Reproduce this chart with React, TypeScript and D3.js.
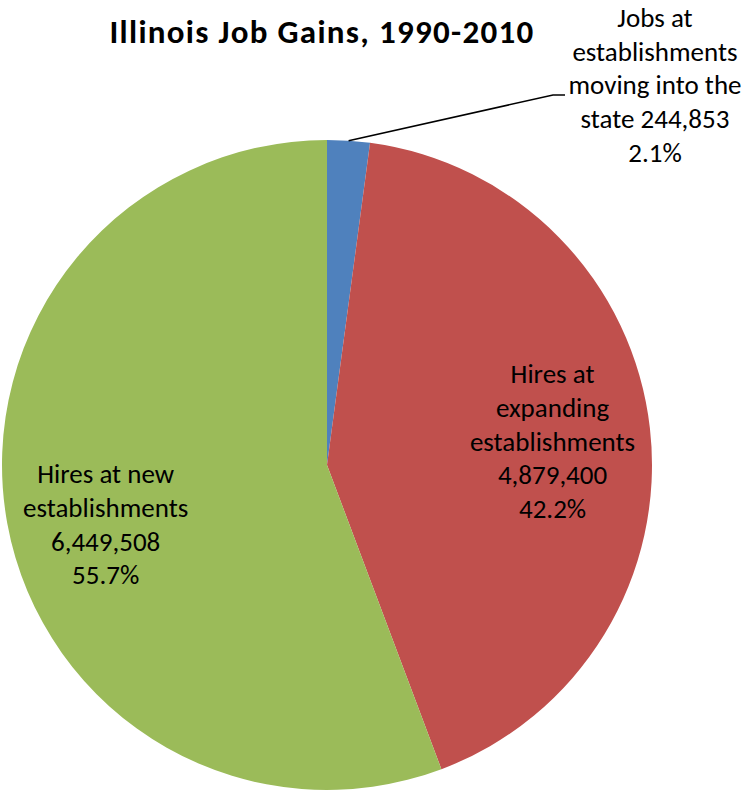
import * as d3 from 'd3'

const categories = [
  'Jobs at establishments moving into the state',
  'Hires at expanding establishments',
  'Hires at new establishments',
]
const values = [244853, 4879400, 6449508]
const labelLines = [
  ['Jobs at', 'establishments', 'moving into the', 'state 244,853', '2.1%'],
  ['Hires at', 'expanding', 'establishments', '4,879,400', '42.2%'],
  ['Hires at new', 'establishments', '6,449,508', '55.7%'],
]
const colors = ['#4F81BD', '#C0504D', '#9BBB59']

const width = 744
const height = 791
const cx = 327
const cy = 465
const radius = 325
const font = 'Carlito, Calibri, Lato, sans-serif'
const lineH = 33.7

export default function App() {
  const pie = d3
    .pie<number>()
    .sort(null)
    .value((d) => d)
  const arcs = pie(values)
  const arc = d3.arc<d3.PieArcDatum<number>>().innerRadius(0).outerRadius(radius)

  // anchor point along the middle angle of a slice
  const along = (a: d3.PieArcDatum<number>, rho: number) => {
    const m = (a.startAngle + a.endAngle) / 2
    return [Math.sin(m) * rho, -Math.cos(m) * rho]
  }

  const p0 = along(arcs[0], radius)
  const p1 = [226, -370]
  const p2 = [238, -370]

  return (
    <svg width={width} height={height} style={{ position: 'absolute', left: 0, top: 0 }}>
      <rect width={width} height={height} fill="#ffffff" />
      <text
        x={322}
        y={43}
        textAnchor="middle"
        fontFamily={font}
        fontWeight="bold"
        fontSize={33}
        letterSpacing={1.3}
        fill="#000"
      >
        Illinois Job Gains, 1990-2010
      </text>
      <g transform={`translate(${cx},${cy})`}>
        {arcs.map((a, i) => (
          <path key={categories[i]} d={arc(a) ?? ''} fill={colors[i]} />
        ))}
        <polyline
          points={[p0, p1, p2].map((p) => p.join(',')).join(' ')}
          fill="none"
          stroke="#000"
          strokeWidth={1.5}
        />
        {arcs.map((a, i) => {
          let x: number, y: number
          if (i === 0) {
            x = 328
            y = -438
          } else if (i === 1) {
            const c = along(a, 227)
            x = c[0]
            y = c[1] - 56
          } else {
            const c = along(a, 225)
            x = c[0]
            y = c[1] - 22
          }
          return (
            <text
              key={'l' + i}
              x={x}
              y={y}
              textAnchor="middle"
              fontFamily={font}
              fontSize={27}
              fill="#000"
            >
              {labelLines[i].map((t, j) => (
                <tspan key={j} x={x} y={y + j * lineH}>
                  {t}
                </tspan>
              ))}
            </text>
          )
        })}
      </g>
    </svg>
  )
}
